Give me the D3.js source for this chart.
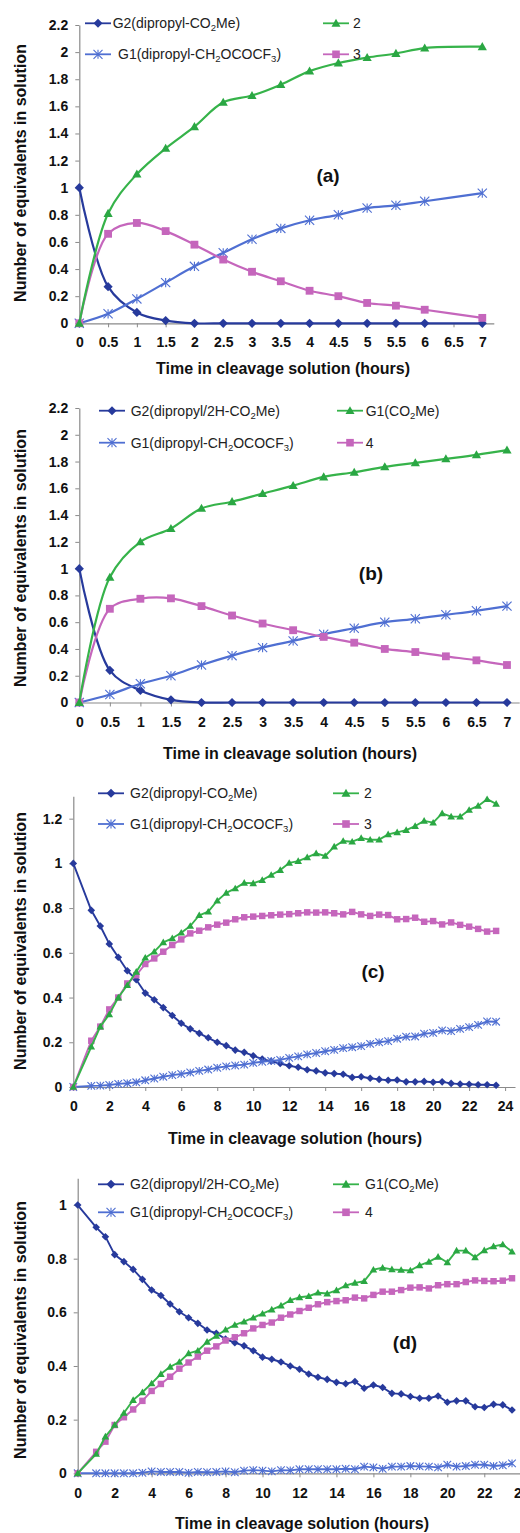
<!DOCTYPE html>
<html>
<head>
<meta charset="utf-8">
<script src="https://cdn.jsdelivr.net/npm/d3@7"></script>
<style>
  body { margin: 0; background: #fff; }
  svg { display: block; font-family: Arial, "Liberation Sans", sans-serif; }
</style>
</head>
<body>
<div id="chart"></div>
<script>
// ---------- time points (hours) ----------
const hoursA = [0, 0.5, 1, 1.5, 2, 2.5, 3, 3.5, 4, 4.5, 5, 5.5, 6, 7];
const hoursB = [0, 0.5, 1, 1.5, 2, 2.5, 3, 3.5, 4, 4.5, 5, 5.5, 6, 6.5, 7];
const hoursCD = [0, 1, 1.5, 2, 2.5, 3, 3.5, 4, 4.5, 5, 5.5, 6, 6.5, 7, 7.5, 8, 8.5, 9, 9.5, 10,
  10.5, 11, 11.5, 12, 12.5, 13, 13.5, 14, 14.5, 15, 15.5, 16, 16.5, 17, 17.5, 18, 18.5, 19,
  19.5, 20, 20.5, 21, 21.5, 22, 22.5, 23, 23.5];

// ---------- tick labels ----------
const xTicksShort = [0, 0.5, 1, 1.5, 2, 2.5, 3, 3.5, 4, 4.5, 5, 5.5, 6, 6.5, 7];
const xTicksLong = [0, 2, 4, 6, 8, 10, 12, 14, 16, 18, 20, 22, 24];
const yTicksAB = [0, 0.2, 0.4, 0.6, 0.8, 1, 1.2, 1.4, 1.6, 1.8, 2, 2.2];
const yTicksC = [0, 0.2, 0.4, 0.6, 0.8, 1, 1.2];
const yTicksD = [0, 0.2, 0.4, 0.6, 0.8, 1];

// ---------- legend names ----------
const nameG2 = "G2(dipropyl-CO_2Me)";
const nameG2H = "G2(dipropyl/2H-CO_2Me)";
const nameG1 = "G1(dipropyl-CH_2OCOCF_3)";
const nameG1Me = "G1(CO_2Me)";

// ---------- panel (a) ----------
const a_G2 = [1, 0.27, 0.08, 0.02, 0, 0, 0, 0, 0, 0, 0, 0, 0, 0];
const a_prod2 = [0, 0.81, 1.1, 1.29, 1.45, 1.63, 1.68, 1.76, 1.86, 1.92, 1.96, 1.99, 2.03, 2.04];
const a_G1 = [0, 0.07, 0.18, 0.3, 0.42, 0.52, 0.62, 0.7, 0.76, 0.8, 0.85, 0.87, 0.9, 0.96];
const a_prod3 = [0, 0.66, 0.74, 0.68, 0.58, 0.47, 0.38, 0.31, 0.24, 0.2, 0.15, 0.13, 0.1, 0.04];

// ---------- panel (b) ----------
const b_G2 = [1, 0.24, 0.09, 0.02, 0, 0, 0, 0, 0, 0, 0, 0, 0, 0, 0];
const b_G1Me = [0, 0.935, 1.2, 1.3, 1.45, 1.5, 1.56, 1.62, 1.685, 1.72, 1.76, 1.79, 1.82, 1.85, 1.885];
const b_G1 = [0, 0.06, 0.14, 0.2, 0.28, 0.35, 0.41, 0.46, 0.51, 0.555, 0.6, 0.625, 0.655, 0.685, 0.72];
const b_prod4 = [0, 0.7, 0.775, 0.778, 0.72, 0.65, 0.59, 0.54, 0.49, 0.447, 0.4, 0.377, 0.345, 0.315, 0.28];

// ---------- panel (c) ----------
const c_G2 = [1, 0.79, 0.72, 0.64, 0.58, 0.52, 0.48, 0.42, 0.39, 0.355, 0.32, 0.285, 0.26, 0.24,
  0.22, 0.2, 0.185, 0.165, 0.155, 0.14, 0.125, 0.115, 0.105, 0.095, 0.088, 0.077, 0.072, 0.063,
  0.06, 0.057, 0.043, 0.046, 0.039, 0.034, 0.03, 0.031, 0.023, 0.023, 0.025, 0.021, 0.023, 0.016,
  0.013, 0.012, 0.01, 0.01, 0.008];
const c_prod2 = [0, 0.18, 0.27, 0.325, 0.4, 0.455, 0.515, 0.578, 0.605, 0.647, 0.665, 0.69, 0.72,
  0.768, 0.784, 0.833, 0.868, 0.888, 0.913, 0.911, 0.925, 0.948, 0.97, 1.002, 1.01, 1.027, 1.045,
  1.033, 1.075, 1.1, 1.097, 1.113, 1.106, 1.106, 1.13, 1.139, 1.149, 1.167, 1.19, 1.182, 1.224,
  1.209, 1.209, 1.239, 1.257, 1.287, 1.266];
const c_G1 = [0, 0.005, 0.006, 0.009, 0.014, 0.017, 0.021, 0.03, 0.038, 0.046, 0.053, 0.058, 0.065,
  0.072, 0.078, 0.086, 0.092, 0.096, 0.1, 0.108, 0.113, 0.117, 0.121, 0.13, 0.137, 0.146, 0.152,
  0.16, 0.166, 0.174, 0.178, 0.183, 0.193, 0.2, 0.205, 0.216, 0.225, 0.226, 0.238, 0.242, 0.253,
  0.25, 0.26, 0.268, 0.278, 0.293, 0.292];
const c_prod3 = [0, 0.207, 0.27, 0.347, 0.4, 0.463, 0.5, 0.55, 0.575, 0.605, 0.635, 0.66, 0.687,
  0.699, 0.714, 0.726, 0.735, 0.75, 0.759, 0.762, 0.765, 0.768, 0.771, 0.773, 0.777, 0.781, 0.78,
  0.781, 0.777, 0.772, 0.783, 0.772, 0.765, 0.771, 0.769, 0.75, 0.751, 0.757, 0.739, 0.742, 0.727,
  0.736, 0.725, 0.717, 0.707, 0.695, 0.698];

// ---------- panel (d) ----------
const d_G2 = [1, 0.917, 0.882, 0.815, 0.789, 0.76, 0.723, 0.683, 0.663, 0.631, 0.602, 0.58, 0.559,
  0.534, 0.522, 0.5, 0.487, 0.475, 0.457, 0.433, 0.425, 0.415, 0.4, 0.388, 0.37, 0.358, 0.35, 0.339,
  0.334, 0.342, 0.317, 0.329, 0.32, 0.298, 0.296, 0.286, 0.28, 0.28, 0.288, 0.265, 0.27, 0.27,
  0.248, 0.245, 0.257, 0.255, 0.236];
const d_G1Me = [0, 0.072, 0.137, 0.18, 0.225, 0.273, 0.302, 0.335, 0.37, 0.397, 0.415, 0.447, 0.457,
  0.49, 0.512, 0.535, 0.553, 0.565, 0.58, 0.595, 0.61, 0.625, 0.645, 0.656, 0.66, 0.673, 0.67,
  0.682, 0.7, 0.71, 0.716, 0.759, 0.766, 0.76, 0.758, 0.756, 0.775, 0.788, 0.807, 0.786, 0.83,
  0.83, 0.805, 0.831, 0.846, 0.853, 0.826];
const d_G1 = [0, 0, 0, 0, 0, 0, 0.002, 0.007, 0.005, 0.005, 0.005, 0.002, 0.005, 0.004, 0.005,
  0.007, 0.004, 0.01, 0.012, 0.01, 0.007, 0.012, 0.011, 0.015, 0.015, 0.015, 0.015, 0.015, 0.017,
  0.015, 0.025, 0.022, 0.017, 0.025, 0.025, 0.027, 0.026, 0.025, 0.022, 0.032, 0.025, 0.027,
  0.032, 0.032, 0.027, 0.03, 0.037];
const d_prod4 = [0, 0.08, 0.118, 0.18, 0.209, 0.238, 0.27, 0.307, 0.333, 0.36, 0.39, 0.413, 0.435,
  0.457, 0.473, 0.495, 0.507, 0.522, 0.54, 0.553, 0.562, 0.58, 0.592, 0.605, 0.617, 0.63, 0.638,
  0.642, 0.645, 0.655, 0.652, 0.665, 0.677, 0.677, 0.683, 0.692, 0.693, 0.689, 0.701, 0.705,
  0.705, 0.713, 0.719, 0.717, 0.716, 0.718, 0.727];

//colours
const colG2 = "#273a9c";
const colStar = "#4f6fd2";
const colGreen = "#36b34a";
const colGreenMark = "#2aa743";
const colPink = "#c566bc";
const colAxis = "#8a8a8a";

const width = 520;
const height = 1533;

const svg = d3
  .select("#chart")
  .append("svg")
  .attr("width", width)
  .attr("height", height);

//marker shapes
function markerPath(kind, r) {
  if (kind === "diamond") {
    return `M0,${-r}L${r},0L0,${r}L${-r},0Z`;
  } else if (kind === "triangle") {
    return `M0,${-r}L${r},${r * 0.75}L${-r},${r * 0.75}Z`;
  } else if (kind === "square") {
    return `M${-r},${-r}H${r}V${r}H${-r}Z`;
  }
  // star: X with a vertical bar
  return `M${-r},${-r}L${r},${r}M${-r},${r}L${r},${-r}M0,${-r}L0,${r}`;
}

const styleOf = {
  diamond: { line: colG2, fill: colG2, stroke: "none" },
  star: { line: colStar, fill: "none", stroke: colStar },
  square: { line: colPink, fill: colPink, stroke: "none" },
  triangle: { line: colGreen, fill: colGreenMark, stroke: "none" }
};

//text with "_n" subscripts
function richText(sel, str, size) {
  const parts = str.split(/_(\d)/);
  parts.forEach((p, i) => {
    if (p === "") return;
    if (i % 2 === 1) {
      sel.append("tspan").attr("font-size", size * 0.68).attr("dy", 3).text(p);
    } else {
      sel.append("tspan").attr("dy", i > 0 ? -3 : 0).text(p);
    }
  });
}

/**************************************
        PANELS
**************************************/
const panels = [
  {
    tag: "(a)", hours: hoursA, smooth: true,
    xMax: 7.2, xTicks: xTicksShort, yMax: 2.2, yTicks: yTicksAB,
    left: 79.3, right: 493.8, bottom: 323.3, top: 25,
    series: [
      { name: nameG2, kind: "diamond", values: a_G2 },
      { name: "2", kind: "triangle", values: a_prod2 },
      { name: nameG1, kind: "star", values: a_G1 },
      { name: "3", kind: "square", values: a_prod3 }
    ],
    legendRows: [23.3, 54.3], legendCols: [85, 323], legendText: [[112.7, 353], [118, 353]],
    tagPos: [328, 175], titleX: 283, titleY: 368, yTitleY: 173, tickPad: 9.5, r: 4.6
  },
  {
    tag: "(b)", hours: hoursB, smooth: true,
    xMax: 7.2, xTicks: xTicksShort, yMax: 2.2, yTicks: yTicksAB,
    left: 79.3, right: 519.2, bottom: 702.5, top: 408,
    series: [
      { name: nameG2H, kind: "diamond", values: b_G2 },
      { name: nameG1Me, kind: "triangle", values: b_G1Me },
      { name: nameG1, kind: "star", values: b_G1 },
      { name: "4", kind: "square", values: b_prod4 }
    ],
    legendRows: [410.7, 442.7], legendCols: [99, 337], legendText: [[130.7, 365.7], [130.7, 365.7]],
    tagPos: [371, 573], titleX: 290, titleY: 753, yTitleY: 558, tickPad: 11, r: 4.6
  },
  {
    tag: "(c)", hours: hoursCD, smooth: false,
    xMax: 24.55, xTicks: xTicksLong, yMax: 1.3, yTicks: yTicksC,
    left: 73.3, right: 515, bottom: 1087, top: 796.3,
    series: [
      { name: nameG2, kind: "diamond", values: c_G2 },
      { name: "2", kind: "triangle", values: c_prod2 },
      { name: nameG1, kind: "star", values: c_G1 },
      { name: "3", kind: "square", values: c_prod3 }
    ],
    legendRows: [793.3, 824], legendCols: [98, 333], legendText: [[130, 364], [130, 364]],
    tagPos: [373, 971], titleX: 295, titleY: 1138, yTitleY: 941, tickPad: 10.5, r: 3.8
  },
  {
    tag: "(d)", hours: hoursCD, smooth: false,
    xMax: 24.5, xTicks: xTicksLong, yMax: 1.1, yTicks: yTicksD,
    left: 77.7, right: 530.5, bottom: 1473.3, top: 1178.2,
    series: [
      { name: nameG2H, kind: "diamond", values: d_G2 },
      { name: nameG1Me, kind: "triangle", values: d_G1Me },
      { name: nameG1, kind: "star", values: d_G1 },
      { name: "4", kind: "square", values: d_prod4 }
    ],
    legendRows: [1184.3, 1212.3], legendCols: [98, 333], legendText: [[130, 365], [130, 365]],
    tagPos: [405, 1342], titleX: 302, titleY: 1523, yTitleY: 1330, tickPad: 10.5, r: 3.8
  }
];

// draw order: diamond, star, square, triangle (green ends up on top)
const drawOrder = ["diamond", "star", "square", "triangle"];

panels.forEach(p => {
  const g = svg.append("g");

  const x = d3.scaleLinear().domain([0, p.xMax]).range([p.left, p.right]);
  const y = d3.scaleLinear().domain([0, p.yMax]).range([p.bottom, p.top]);

  //x-axis
  const xAxis = d3
    .axisBottom(x)
    .tickValues(p.xTicks)
    .tickFormat(d => String(d))
    .tickSizeInner(4)
    .tickSizeOuter(0)
    .tickPadding(p.tickPad);

  const gx = g
    .append("g")
    .attr("transform", "translate(0," + p.bottom + ")")
    .call(xAxis);

  //y-axis
  const yAxis = d3
    .axisLeft(y)
    .tickValues(p.yTicks)
    .tickFormat(d => String(d))
    .tickSizeInner(4)
    .tickSizeOuter(0)
    .tickPadding(7);

  const gy = g
    .append("g")
    .attr("transform", "translate(" + p.left + ",0)")
    .call(yAxis);

  [gx, gy].forEach(ax => {
    ax.select(".domain").attr("stroke", colAxis).attr("stroke-width", 1.2);
    ax.selectAll(".tick line").attr("stroke", colAxis).attr("stroke-width", 1);
    ax.selectAll(".tick text")
      .attr("fill", "#111")
      .attr("font-size", 14)
      .attr("font-weight", "bold")
      .attr("font-family", "Arial, 'Liberation Sans', sans-serif");
  });

  //axis titles
  g.append("text")
    .attr("x", p.titleX)
    .attr("y", p.titleY)
    .attr("dy", "0.36em")
    .attr("text-anchor", "middle")
    .attr("font-size", 16)
    .attr("font-weight", "bold")
    .attr("fill", "#111")
    .text("Time in cleavage solution (hours)");

  g.append("text")
    .attr("transform", "translate(25.5," + p.yTitleY + ") rotate(-90)")
    .attr("text-anchor", "middle")
    .attr("font-size", 16)
    .attr("font-weight", "bold")
    .attr("fill", "#111")
    .text("Number of equivalents in solution");

  //lines
  const line = d3
    .line()
    .x((d, i) => x(p.hours[i]))
    .y(d => y(d))
    .curve(p.smooth ? d3.curveCatmullRom.alpha(0.5) : d3.curveLinear);

  drawOrder.forEach(kind => {
    const s = p.series.find(t => t.kind === kind);
    const st = styleOf[kind];
    g.append("path")
      .attr("d", line(s.values))
      .attr("fill", "none")
      .attr("stroke", st.line)
      .attr("stroke-width", p.smooth ? 2.2 : 1.9)
      .attr("stroke-linejoin", "round");

    g.selectAll(null)
      .data(s.values)
      .enter()
      .append("path")
      .attr("transform", (d, i) => "translate(" + x(p.hours[i]) + "," + y(d) + ")")
      .attr("d", markerPath(kind, kind === "square" ? p.r * 0.85 : p.r))
      .attr("fill", st.fill)
      .attr("stroke", st.stroke)
      .attr("stroke-width", 1.1);
  });

  //legend
  p.series.forEach((s, i) => {
    const row = Math.floor(i / 2);
    const col = i % 2;
    const ly = p.legendRows[row];
    const lx = p.legendCols[col];
    const st = styleOf[s.kind];
    const lw = 26;
    g.append("line")
      .attr("x1", lx)
      .attr("x2", lx + lw)
      .attr("y1", ly)
      .attr("y2", ly)
      .attr("stroke", st.line)
      .attr("stroke-width", 1.8);
    g.append("path")
      .attr("transform", "translate(" + (lx + lw / 2) + "," + ly + ")")
      .attr("d", markerPath(s.kind, s.kind === "square" ? 3.8 : 4.5))
      .attr("fill", st.fill)
      .attr("stroke", st.stroke)
      .attr("stroke-width", 1.1);
    const t = g
      .append("text")
      .attr("x", p.legendText[row][col])
      .attr("y", ly + 5)
      .attr("font-size", 14)
      .attr("fill", "#222");
    richText(t, s.name, 14);
  });

  //panel tag
  g.append("text")
    .attr("x", p.tagPos[0])
    .attr("y", p.tagPos[1])
    .attr("dy", "0.36em")
    .attr("text-anchor", "middle")
    .attr("font-size", 19)
    .attr("font-weight", "bold")
    .attr("fill", "#111")
    .text(p.tag);
});
</script>
</body>
</html>
